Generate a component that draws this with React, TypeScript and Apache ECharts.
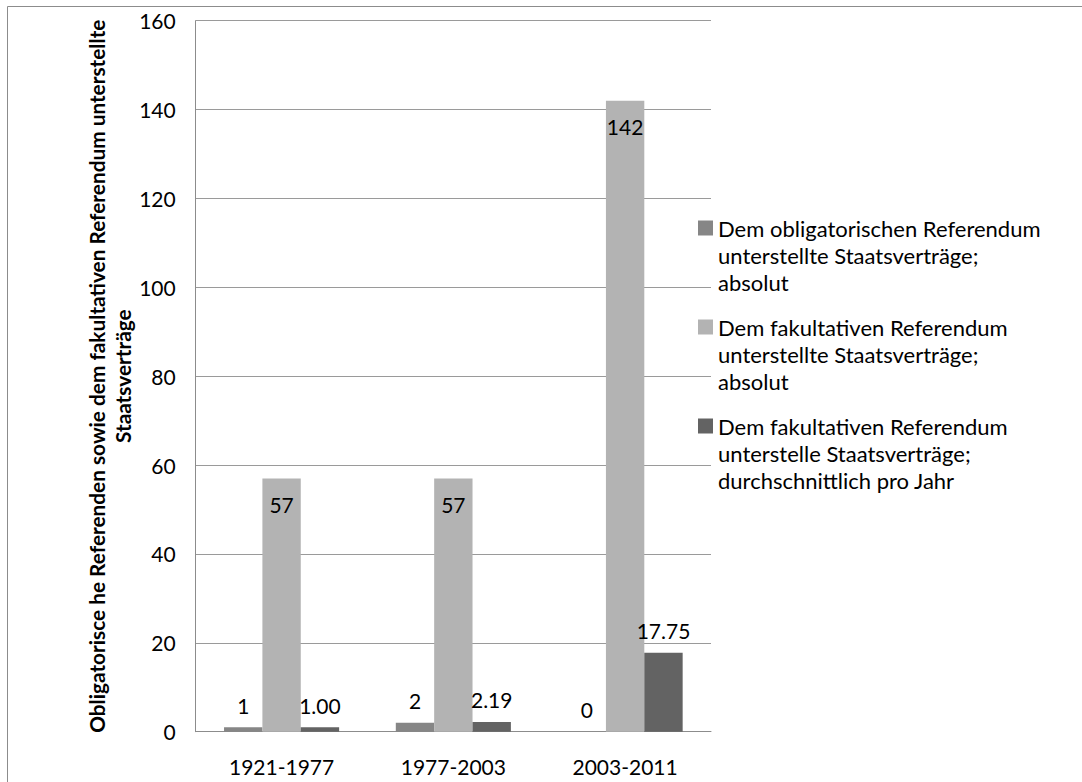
import React, { useEffect, useRef } from "react";
import * as echarts from "echarts";

const categories = ["1921-1977", "1977-2003", "2003-2011"];
const obligatorischAbsolut = [1, 2, 0];
const fakultativAbsolut = [57, 57, 142];
const fakultativProJahr = [1.0, 2.19, 17.75];
const yTicks = { min: 0, max: 160, interval: 20 };

const seriesNames = [
  "Dem obligatorischen Referendum unterstellte Staatsverträge; absolut",
  "Dem fakultativen Referendum unterstellte Staatsverträge; absolut",
  "Dem fakultativen Referendum unterstelle Staatsverträge; durchschnittlich pro Jahr",
];
const legendLines = [
  ["Dem obligatorischen Referendum", "unterstellte Staatsverträge;", "absolut"],
  ["Dem fakultativen Referendum", "unterstellte Staatsverträge;", "absolut"],
  ["Dem fakultativen Referendum", "unterstelle Staatsverträge;", "durchschnittlich pro Jahr"],
];
const yAxisTitle =
  "Obligatorisce he Referenden sowie dem fakultativen Referendum unterstellte\nStaatsverträge";

const colors = ["#868686", "#b3b3b3", "#636363"];
const FONT = "Lato, 'Open Sans', sans-serif";

export default function App() {
  const ref = useRef<HTMLDivElement>(null);
  useEffect(() => {
    if (!ref.current) return;
    const chart = echarts.init(ref.current, null, { renderer: "svg" });
    const labelBase = {
      show: true,
      color: "#000",
      fontSize: 21,
      fontFamily: FONT,
      lineHeight: 20,
    };
    const legendTops = [228, 327, 426];
    const graphics: any[] = [
      {
        type: "rect",
        shape: { x: 7.5, y: 6.5, width: 1200, height: 1000 },
        style: { fill: "none", stroke: "#8c8c8c", lineWidth: 1 },
        silent: true,
      },
    ];
    legendLines.forEach((lines, i) => {
      const y0 = legendTops[i];
      graphics.push({
        type: "rect",
        shape: { x: 698, y: y0 - 7.5, width: 15, height: 15 },
        style: { fill: colors[i] },
      });
      graphics.push({
        type: "text",
        x: 718,
        y: y0 - 13.5,
        style: {
          text: lines.join("\n"),
          fontSize: 22,
          fontFamily: FONT,
          lineHeight: 27,
          fill: "#000",
          verticalAlign: "top",
          align: "left",
        },
      });
    });

    chart.setOption({
      animation: false,
      backgroundColor: "#fff",
      grid: { left: 195.7, right: 371, top: 20.7, bottom: 50.3, containLabel: false },
      xAxis: {
        type: "category",
        data: categories,
        axisLine: { show: true, lineStyle: { color: "#8c8c8c", width: 1 } },
        axisTick: { show: false },
        axisLabel: { color: "#000", fontSize: 21, fontFamily: FONT, margin: 24 },
      },
      yAxis: {
        type: "value",
        min: yTicks.min,
        max: yTicks.max,
        interval: yTicks.interval,
        axisLine: { show: true, lineStyle: { color: "#8c8c8c", width: 1 } },
        axisTick: { show: false },
        axisLabel: { color: "#000", fontSize: 21, fontFamily: FONT, margin: 20 },
        splitLine: { show: true, lineStyle: { color: "#9a9a9a", width: 1 } },
        name: yAxisTitle,
        nameLocation: "middle",
        nameRotate: 90,
        nameGap: 60,
        nameTextStyle: {
          color: "#000",
          fontSize: 20.8,
          fontWeight: "bold",
          fontFamily: FONT,
          lineHeight: 26,
        },
      },
      series: [
        {
          name: seriesNames[0],
          type: "bar",
          data: obligatorischAbsolut,
          itemStyle: { color: colors[0] },
          barCategoryGap: "33%",
          barGap: "0%",
          label: { ...labelBase, position: "top", distance: 12 },
        },
        {
          name: seriesNames[1],
          type: "bar",
          data: fakultativAbsolut,
          itemStyle: { color: colors[1] },
          barCategoryGap: "33%",
          barGap: "0%",
          label: { ...labelBase, position: "insideTop", distance: 16 },
        },
        {
          name: seriesNames[2],
          type: "bar",
          data: fakultativProJahr,
          itemStyle: { color: colors[2] },
          barCategoryGap: "33%",
          barGap: "0%",
          label: {
            ...labelBase,
            position: "top",
            distance: 12,
            formatter: (p: any) => Number(p.value).toFixed(2),
          },
        },
      ],
      graphic: graphics,
    });
    return () => chart.dispose();
  }, []);
  return (
    <div
      ref={ref}
      style={{ position: "absolute", left: 0, top: 0, width: 1082, height: 782 }}
    />
  );
}
